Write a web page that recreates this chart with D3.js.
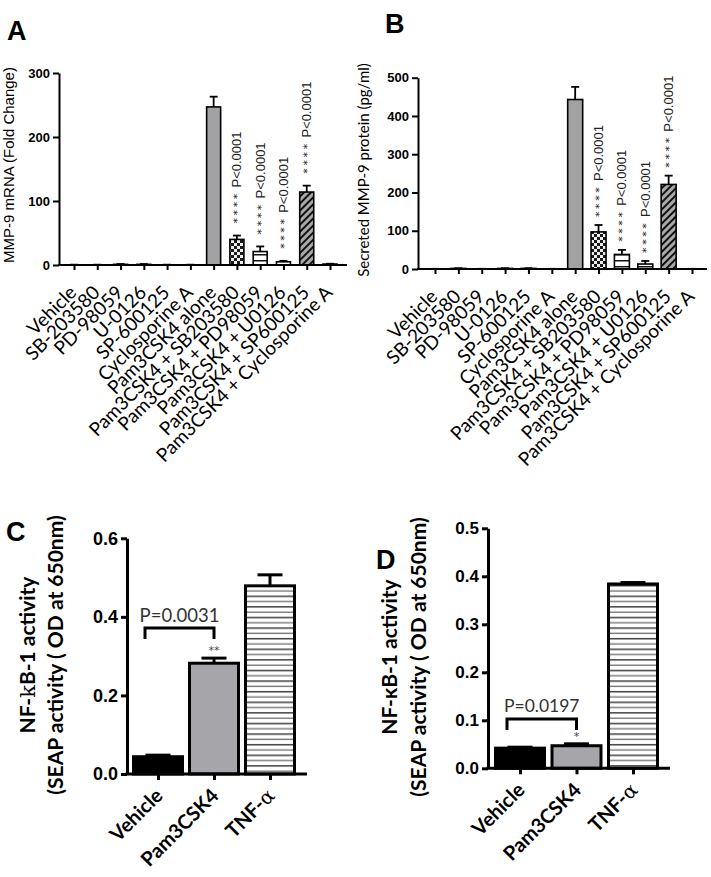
<!DOCTYPE html>
<html><head><meta charset="utf-8">
<script src="https://cdn.jsdelivr.net/npm/d3@7"></script>
<style>body{margin:0;background:#fff} svg{display:block} text{-webkit-font-smoothing:antialiased}</style>
</head><body>
<svg id="c" width="711" height="877"></svg>
<script>
// ---------- data ----------
const catsAB = ["Vehicle","SB-203580","PD-98059","U-0126","SP-600125","Cyclosporine A","Pam3CSK4 alone","Pam3CSK4 + SB203580","Pam3CSK4 + PD98059","Pam3CSK4 + U0126","Pam3CSK4 + SP600125","Pam3CSK4 + Cyclosporine A"];
const fillsAB = ["gray","gray","gray","gray","gray","gray","gray","checker","hlines","hlines","diag","gray"];
const mrnaMean = [0.3, 0.3, 1.0, 1.0, 0.3, 0.3, 247, 40, 21, 5, 114, 1.5];
const mrnaErr  = [0.2, 0.2, 0.5, 0.5, 0.2, 0.2, 16, 6, 8, 1.5, 10, 0.5];
const proteinMean = [0.3, 1.5, 0.3, 1.5, 1.5, 0.3, 443, 97, 38, 13, 221, 0.3];
const proteinErr  = [0.2, 0.5, 0.2, 0.5, 0.5, 0.2, 33, 18, 12, 8, 23, 0.2];
const starsAB = ["","","","","","","","****","****","****","****",""];
const pLabelAB = ["","","","","","","","P<0.0001","P<0.0001","P<0.0001","P<0.0001",""];
const ticksA = [0,100,200,300];
const ticksB = [0,100,200,300,400,500];

const catsCD = ["Vehicle","Pam3CSK4","TNF-α"];
const fillsCD = ["black","gray2","tnf"];
const nfkbC = [0.044, 0.282, 0.479];
const nfkbCErr = [0.004, 0.013, 0.028];
const nfkbD = [0.042, 0.047, 0.384];
const nfkbDErr = [0.002, 0.004, 0.003];
const ticksC = [0.0, 0.2, 0.4, 0.6];
const ticksD = [0.0, 0.1, 0.2, 0.3, 0.4, 0.5];
const starsC = ["","**",""];
const starsD = ["","*",""];
const pTextC = "P=0.0031";
const pTextD = "P=0.0197";

// ---------- setup ----------
const svg = d3.select("#c");
const defs = svg.append("defs");
function pat(id, w, h, transform) {
  const p = defs.append("pattern").attr("id", id).attr("width", w).attr("height", h)
    .attr("patternUnits", "userSpaceOnUse");
  if (transform) p.attr("patternTransform", transform);
  return p;
}
let p = pat("checker", 6, 6);
p.append("rect").attr("width", 6).attr("height", 6).attr("fill", "#eee");
p.append("rect").attr("width", 3).attr("height", 3).attr("fill", "#1a1a1a");
p.append("rect").attr("x", 3).attr("y", 3).attr("width", 3).attr("height", 3).attr("fill", "#1a1a1a");
p = pat("hlines", 6, 6);
p.append("rect").attr("width", 6).attr("height", 6).attr("fill", "#fff");
p.append("rect").attr("y", 2).attr("width", 6).attr("height", 1.5).attr("fill", "#111");
p = pat("diag", 5, 5, "rotate(45)");
p.append("rect").attr("width", 5).attr("height", 5).attr("fill", "#a9a9a9");
p.append("rect").attr("width", 2).attr("height", 5).attr("fill", "#111");
p = pat("tnf", 10, 10.6);
p.append("rect").attr("width", 10).attr("height", 10.6).attr("fill", "#fff");
p.append("rect").attr("y", 2).attr("width", 10).attr("height", 1.4).attr("fill", "#333");
p.append("rect").attr("y", 7.3).attr("width", 10).attr("height", 1.4).attr("fill", "#777");

const fillOf = {gray: "#a2a2a5", gray2: "#a6a6aa", black: "#000", checker: "url(#checker)", hlines: "url(#hlines)", diag: "url(#diag)", tnf: "url(#tnf)"};

function panel(cfg) {
  const g = svg.append("g");
  const y = d3.scaleLinear().domain([cfg.ticks[0], cfg.ticks[cfg.ticks.length - 1]]).range([cfg.y0, cfg.y1]);
  const x = d3.scalePoint().domain(cfg.cats).range([cfg.xFirst, cfg.xLast]);
  const bw = cfg.barW;

  g.selectAll("rect.bar").data(cfg.values).join("rect")
    .attr("x", (d, i) => x(cfg.cats[i]) - bw / 2)
    .attr("y", d => y(d))
    .attr("width", bw)
    .attr("height", d => y(0) - y(d))
    .attr("fill", (d, i) => fillOf[cfg.fills[i]])
    .attr("stroke", "#000").attr("stroke-width", cfg.barStroke);

  const eg = g.append("g").attr("stroke", "#000").attr("stroke-width", cfg.errStroke);
  cfg.values.forEach((v, i) => {
    const cx = x(cfg.cats[i]);
    eg.append("line").attr("x1", cx).attr("x2", cx).attr("y1", y(v)).attr("y2", y(v + cfg.errs[i]));
    eg.append("line").attr("x1", cx - cfg.capW / 2).attr("x2", cx + cfg.capW / 2)
      .attr("y1", y(v + cfg.errs[i])).attr("y2", y(v + cfg.errs[i]));
  });

  const ya = g.append("g").attr("transform", `translate(${cfg.xAxis},0)`)
    .call(d3.axisLeft(y).tickValues(cfg.ticks).tickSize(6).tickSizeOuter(0).tickPadding(3).tickFormat(cfg.fmt));
  ya.select(".domain").attr("stroke-width", cfg.axisStroke);
  ya.selectAll(".tick line").attr("stroke-width", cfg.axisStroke);
  ya.selectAll(".tick text").attr("font-family", "Liberation Sans, Arial, sans-serif")
    .attr("font-weight", "bold").attr("font-size", cfg.tickFont).attr("fill", "#000");

  const xa = g.append("g").attr("transform", `translate(0,${cfg.y0})`)
    .call(d3.axisBottom(x).tickSize(cfg.xTick).tickSizeOuter(0).tickFormat(""));
  xa.select(".domain").remove();
  xa.selectAll(".tick line").attr("stroke-width", cfg.axisStroke);
  g.append("line").attr("x1", cfg.xAxis - cfg.axisStroke / 2).attr("x2", cfg.xAxisEnd)
    .attr("y1", cfg.y0).attr("y2", cfg.y0).attr("stroke", "#000").attr("stroke-width", cfg.axisStroke);

  g.selectAll("text.xl").data(cfg.cats).join("text")
    .attr("transform", d => `translate(${x(d) + cfg.lblDx},${cfg.y0 + cfg.lblDy}) rotate(-45)`)
    .attr("text-anchor", "end").attr("dy", "0.35em")
    .attr("font-family", cfg.lblFamily).attr("font-size", cfg.lblFont)
    .attr("font-weight", cfg.lblWeight).attr("fill", "#000")
    .each(function (d) {
      const t = d3.select(this);
      if (d.endsWith("α")) {
        t.append("tspan").text(d.slice(0, -1));
        t.append("tspan").attr("font-weight", "normal").attr("font-family", "DejaVu Serif, serif").text("α");
      } else t.text(d);
    });

  cfg.title.forEach((line, k) => {
    const t = g.append("text")
      .attr("transform", `translate(${cfg.titleX[k]},${cfg.titleY}) rotate(-90)`)
      .attr("text-anchor", "middle").attr("font-family", cfg.titleFamily)
      .attr("font-size", cfg.titleFont).attr("font-weight", cfg.titleWeight).attr("fill", "#000");
    line.forEach(seg => {
      const s = t.append("tspan").text(seg.t);
      if (seg.w) s.attr("font-weight", seg.w);
      if (seg.f) s.attr("font-family", seg.f);
    });
  });

  g.append("text").attr("x", cfg.letterX).attr("y", cfg.letterY).text(cfg.letter)
    .attr("font-family", "Liberation Sans, Arial, sans-serif").attr("font-weight", "bold")
    .attr("font-size", 27).attr("fill", "#000");

  return {g, x, y};
}

// ---------- Panel A ----------
const A = panel({
  cats: catsAB, values: mrnaMean, errs: mrnaErr, fills: fillsAB, ticks: ticksA, fmt: d3.format("d"),
  y0: 265, y1: 73, xFirst: 74, xLast: 330, barW: 14, xAxis: 59, xAxisEnd: 347,
  barStroke: 1.6, errStroke: 1.8, capW: 8, axisStroke: 2, tickFont: 13, xTick: 5,
  lblDx: -1, lblDy: 24, lblFamily: "Lato, sans-serif", lblFont: 19, lblWeight: "normal",
  title: [[{t: "MMP-9 mRNA (Fold Change)"}]], titleX: [13.5], titleY: 165, titleFamily: "Liberation Sans, Arial, sans-serif",
  titleFont: 15, titleWeight: "normal", letter: "A", letterX: 7, letterY: 40
});
// ---------- Panel B ----------
const B = panel({
  cats: catsAB, values: proteinMean, errs: proteinErr, fills: fillsAB, ticks: ticksB, fmt: d3.format("d"),
  y0: 269, y1: 77.7, xFirst: 435, xLast: 692, barW: 15, xAxis: 418, xAxisEnd: 707,
  barStroke: 1.6, errStroke: 1.8, capW: 8, axisStroke: 2, tickFont: 13, xTick: 5,
  lblDx: -1, lblDy: 24, lblFamily: "Lato, sans-serif", lblFont: 19, lblWeight: "normal",
  title: [[{t: "Secreted MMP-9 protein (pg/ml)"}]], titleX: [369], titleY: 170, titleFamily: "Lato, sans-serif",
  titleFont: 15, titleWeight: "normal", letter: "B", letterX: 385, letterY: 33
});

// significance labels A/B: stars drawn as separate small text, then P-value
[[A, mrnaMean, mrnaErr, 12], [B, proteinMean, proteinErr, 8]].forEach(([P, vals, errs, gap]) => {
  pLabelAB.forEach((lab, i) => {
    if (!lab) return;
    const cx = P.x(catsAB[i]);
    const base = P.y(vals[i] + errs[i]) - gap;
    const t = P.g.append("text")
      .attr("transform", `translate(${cx},${base}) rotate(-90)`)
      .attr("dy", "0.35em").attr("text-anchor", "start")
      .attr("font-family", "DejaVu Sans, sans-serif").attr("font-size", 12.5).attr("fill", "#222");
    t.append("tspan").attr("letter-spacing", 2.6).attr("font-size", 11).text(starsAB[i]);
    t.append("tspan").attr("font-family", "Liberation Sans, Arial, sans-serif").attr("font-size", 13).text(" " + lab);
  });
});

// ---------- Panel C ----------
const C = panel({
  cats: catsCD, values: nfkbC, errs: nfkbCErr, fills: fillsCD, ticks: ticksC, fmt: d3.format(".1f"),
  y0: 774, y1: 538.3, xFirst: 158, xLast: 270, barW: 49, xAxis: 127, xAxisEnd: 307,
  barStroke: 3, errStroke: 3, capW: 25, axisStroke: 3, tickFont: 18, xTick: 6,
  lblDx: 1, lblDy: 18, lblFamily: "Lato, sans-serif", lblFont: 20, lblWeight: "bold",
  title: [[{t: "NF-"}, {t: "k", w: "normal", f: "DejaVu Serif, serif"}, {t: "B-1 activity"}], [{t: "(SEAP activity ( OD at 650nm)"}]],
  titleX: [35, 63], titleY: 655, titleFamily: "Lato, sans-serif", titleFont: 21, titleWeight: "bold",
  letter: "C", letterX: 6, letterY: 541
});
// ---------- Panel D ----------
const D = panel({
  cats: catsCD, values: nfkbD, errs: nfkbDErr, fills: fillsCD, ticks: ticksD, fmt: d3.format(".1f"),
  y0: 768.3, y1: 528.3, xFirst: 520, xLast: 633, barW: 49, xAxis: 488, xAxisEnd: 670,
  barStroke: 3, errStroke: 3, capW: 25, axisStroke: 3, tickFont: 17, xTick: 6,
  lblDx: 1, lblDy: 18, lblFamily: "Lato, sans-serif", lblFont: 20, lblWeight: "bold",
  title: [[{t: "NF-κB-1 activity"}], [{t: "(SEAP activity ( OD at 650nm)"}]],
  titleX: [397, 426], titleY: 657, titleFamily: "Lato, sans-serif", titleFont: 21, titleWeight: "bold",
  letter: "D", letterX: 376, letterY: 569
});

// brackets + stars C/D
function bracket(P, vals, errs, stars, text, yb, drop, textY, font) {
  const x1 = P.x(catsCD[0]) - 13, x2 = P.x(catsCD[1]);
  P.g.append("path").attr("d", `M${x1},${yb + drop}V${yb}H${x2}V${yb + drop}`)
    .attr("fill", "none").attr("stroke", "#000").attr("stroke-width", 3);
  P.g.append("text").attr("x", (x1 + x2) / 2).attr("y", textY).attr("text-anchor", "middle")
    .attr("font-family", "Lato, sans-serif").attr("font-size", font).attr("fill", "#333").text(text);
  stars.forEach((s, i) => {
    if (!s) return;
    P.g.append("text").attr("x", P.x(catsCD[i])).attr("y", P.y(vals[i] + errs[i]) - 4)
      .attr("text-anchor", "middle").attr("font-family", "DejaVu Sans, sans-serif")
      .attr("font-size", 11).attr("fill", "#444").text(s);
  });
}
bracket(C, nfkbC, nfkbCErr, starsC, pTextC, 628, 11, 622, 18.5);
bracket(D, nfkbD, nfkbDErr, starsD, pTextD, 719, 11, 712, 17.5);
</script>
</body></html>
